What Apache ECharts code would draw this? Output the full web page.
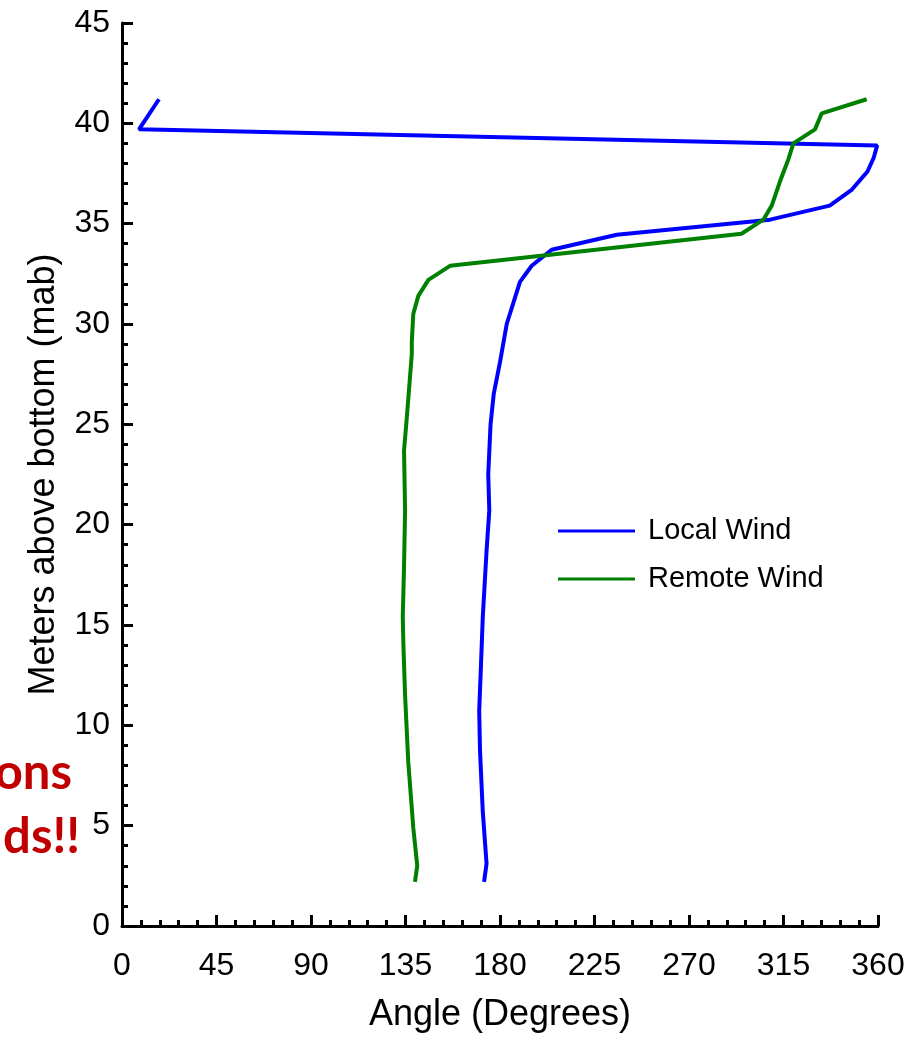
<!DOCTYPE html>
<html>
<head>
<meta charset="utf-8">
<script src="https://cdn.jsdelivr.net/npm/echarts@6/dist/echarts.min.js"></script>
<style>
html,body{margin:0;padding:0;background:#fff;}
#chart{width:914px;height:1038px;}
</style>
</head>
<body>
<div id="chart"></div>
<script>
// ---- data ----
const xTicks = [0, 45, 90, 135, 180, 225, 270, 315, 360];
const yTicks = [0, 5, 10, 15, 20, 25, 30, 35, 40, 45];

const seriesNames = ['Local Wind', 'Remote Wind'];

const localAngle  = [172.4, 173.6, 171.8, 170.5, 170.1, 171.3, 171.8, 173.6, 174.9, 174.4, 175.5, 177.0, 180.0, 183.2, 189.5, 195.1, 204.6, 235.6, 308.6, 337.0, 347.6, 355.0, 358.0, 359.6, 8.1, 17.6];
const localHeight = [2.2, 3.1, 5.7, 8.7, 10.7, 14.0, 15.4, 18.7, 20.7, 22.5, 25.0, 26.5, 28.1, 30.0, 32.1, 32.9, 33.7, 34.45, 35.2, 35.9, 36.7, 37.6, 38.3, 38.9, 39.7, 41.2];

const remoteAngle  = [139.5, 140.6, 138.7, 136.3, 134.8, 134.0, 133.7, 134.3, 134.8, 134.3, 135.6, 137.1, 138.0, 138.0, 138.7, 141.1, 145.9, 156.2, 295.0, 305.4, 309.4, 313.3, 317.3, 319.7, 330.0, 333.2, 354.6];
const remoteHeight = [2.2, 3.0, 4.9, 8.2, 11.5, 14.0, 15.4, 17.9, 20.7, 23.7, 25.3, 27.3, 28.5, 29.1, 30.5, 31.4, 32.2, 32.9, 34.5, 35.2, 35.9, 37.1, 38.2, 39.0, 39.7, 40.5, 41.2];

const overlayTexts = ['ons', 'ds!!'];

// ---- chart ----
const chart = echarts.init(document.getElementById('chart'), null, {renderer: 'canvas'});
const FONT = '"Liberation Sans", Arial, Helvetica, sans-serif';

function axisCommon(ticks) {
  return {
    type: 'value',
    min: ticks[0],
    max: ticks[ticks.length - 1],
    interval: ticks[1] - ticks[0],
    axisLine: {show: true, lineStyle: {color: '#000', width: 3}},
    axisTick: {show: true, inside: true, length: 11, lineStyle: {color: '#000', width: 3}},
    minorTick: {show: true, splitNumber: 5, length: 6, lineStyle: {color: '#000', width: 3}},
    splitLine: {show: false},
    minorSplitLine: {show: false},
    nameTextStyle: {color: '#000', fontSize: 36, fontFamily: FONT},
  };
}

const xAxis = Object.assign(axisCommon(xTicks), {
  name: 'Angle (Degrees)',
  nameLocation: 'middle',
  nameGap: 71,
  axisLabel: {color: '#000', fontSize: 32, fontFamily: FONT, margin: 24}
});
const yAxis = Object.assign(axisCommon(yTicks), {
  name: 'Meters above bottom (mab)',
  nameLocation: 'middle',
  nameRotate: 90,
  nameGap: 60,
  axisLabel: {color: '#000', fontSize: 32, fontFamily: FONT, margin: 12}
});

const option = {
  animation: false,
  backgroundColor: '#fff',
  grid: {left: 122, right: 36, top: 23, bottom: 106, containLabel: false},
  xAxis: xAxis,
  yAxis: yAxis,
  legend: {
    orient: 'vertical',
    left: 553,
    top: 510,
    icon: 'rect',
    itemWidth: 77,
    itemHeight: 3,
    itemGap: 16,
    textStyle: {color: '#000', fontSize: 29, fontFamily: FONT, padding: [0, 0, 0, 8], lineHeight: 32},
    data: seriesNames
  },
  series: [
    {
      name: seriesNames[0],
      type: 'line',
      symbol: 'none',
      showSymbol: false,
      color: '#0000ff',
      lineStyle: {color: '#0000ff', width: 4},
      data: localAngle.map((a, i) => [a, localHeight[i]])
    },
    {
      name: seriesNames[1],
      type: 'line',
      symbol: 'none',
      showSymbol: false,
      color: '#008000',
      lineStyle: {color: '#008000', width: 4},
      data: remoteAngle.map((a, i) => [a, remoteHeight[i]])
    }
  ],
  graphic: [
    {
      type: 'text', z: 100,
      style: {
        text: overlayTexts[0], x: 72, y: 749, align: 'right', verticalAlign: 'alphabetic',
        fill: '#c00000', fontSize: 49, fontWeight: 'bold', fontFamily: 'Lato, "Open Sans", sans-serif',
        shadowColor: 'rgba(0,0,0,0.35)', shadowBlur: 3, shadowOffsetX: 2, shadowOffsetY: 2
      }
    },
    {
      type: 'text', z: 100,
      style: {
        text: overlayTexts[1], x: 80, y: 813, align: 'right', verticalAlign: 'alphabetic',
        fill: '#c00000', fontSize: 49, fontWeight: 'bold', fontFamily: 'Lato, "Open Sans", sans-serif',
        shadowColor: 'rgba(0,0,0,0.35)', shadowBlur: 3, shadowOffsetX: 2, shadowOffsetY: 2
      }
    }
  ]
};
chart.setOption(option);
</script>
</body>
</html>
